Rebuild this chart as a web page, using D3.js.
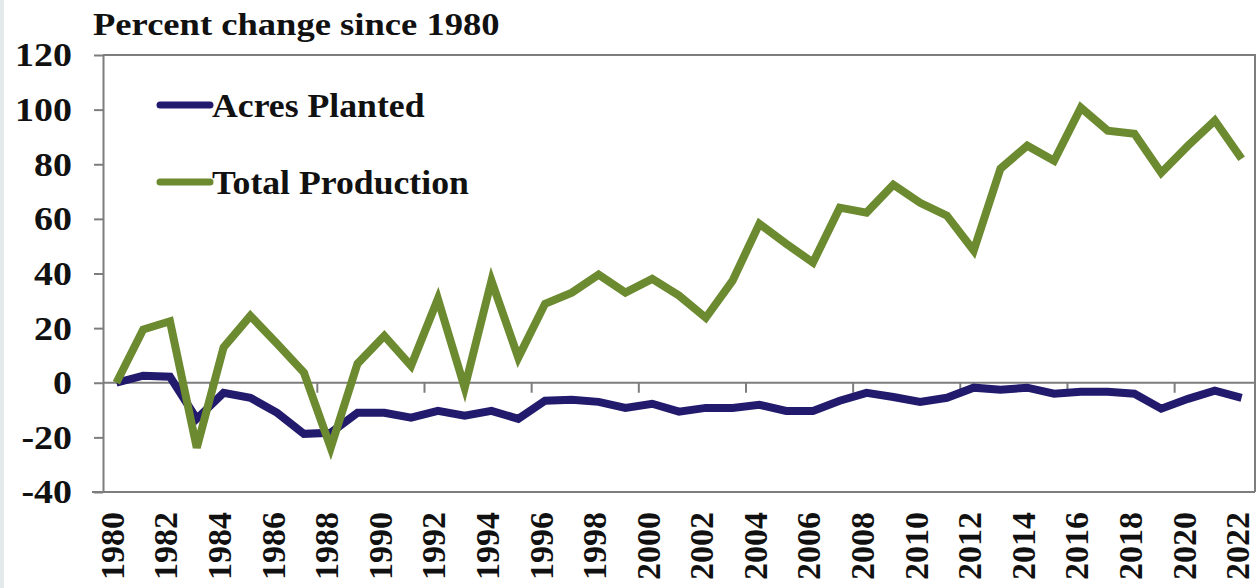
<!DOCTYPE html>
<html>
<head>
<meta charset="utf-8">
<script src="https://cdn.jsdelivr.net/npm/d3@7"></script>
<style>
    body { margin: 0; background: #fff; }
    text { font-family: "Liberation Serif", "Times New Roman", serif; font-weight: bold; fill: #111; }
</style>
</head>
<body>
<svg id="chart"></svg>
<script>
// data
var years = d3.range(1980, 2023);
var acresPlanted = [0, 2.6, 2.2, -13.2, -3.7, -5.5, -11, -18.7, -18.3, -11, -11, -12.8, -10.3, -12.1, -10.3,
    -13.2, -6.6, -6.2, -7, -9.2, -7.7, -10.6, -9.2, -9.2, -8.1, -10.3, -10.3, -6.6, -3.7, -5.2,
    -7, -5.5, -1.8, -2.6, -1.8, -4, -3.3, -3.3, -4, -9.5, -5.9, -2.9, -5.5];
var totalProduction = [0, 19.5, 22.5, -23.8, 12.9, 24.5, 14.3, 3.7, -23.8, 7, 17.2, 6.2, 30.7, -1.8, 37.4,
    9.2, 28.9, 33, 39.6, 33, 38, 31.9, 23.8, 37.4, 58.2, 50.9, 44, 64.1, 62.3, 72.5,
    65.9, 61.2, 48.4, 78.4, 86.8, 81.3, 100.7, 92.3, 91.2, 76.9, 86.8, 96, 82];
var yTicks = [-40, -20, 0, 20, 40, 60, 80, 100, 120];
var seriesNames = ["Acres Planted", "Total Production"];
var seriesColors = ["#221a6c", "#6c8a30"];

var width = 1258,
    height = 588;

var svg = d3.select("#chart")
    .attr("width", width)
    .attr("height", height);

// faint strip on the left edge
svg.append("rect")
    .attr("x", 0).attr("y", 0)
    .attr("width", 4).attr("height", height)
    .attr("fill", "#e4e9ec");

var x = d3.scalePoint()
    .domain(years)
    .range([103, 1255])
    .padding(0.5);

var y = d3.scaleLinear()
    .domain([-40, 120])
    .range([492, 55]);

var axisColor = "#7d7d7d";

// frame: top and right
svg.append("path")
    .attr("d", "M103," + y(120) + "H1255V" + y(-40))
    .attr("fill", "none")
    .attr("stroke", axisColor)
    .attr("stroke-width", 2);

// y axis
var yAxis = svg.append("g")
    .attr("transform", "translate(103,0)")
    .call(d3.axisLeft(y)
        .tickValues(yTicks)
        .tickFormat(function (d) { return String(d); })
        .tickSize(9).tickSizeOuter(0).tickPadding(22));
yAxis.selectAll("path, line").attr("stroke", axisColor).attr("stroke-width", 2);
yAxis.selectAll(".tick text").each(function () {
    var t = d3.select(this);
    var xx = +t.attr("x");
    t.style("font-size", "33px")
        .attr("fill", "#111")
        .attr("dy", "0.33em")
        .attr("transform", "translate(" + xx + ",0) scale(1.15,1) translate(" + (-xx) + ",0)");
});

// bottom axis line
svg.append("line")
    .attr("x1", 92).attr("x2", 1255)
    .attr("y1", y(-40)).attr("y2", y(-40))
    .attr("stroke", axisColor)
    .attr("stroke-width", 2);

// zero line with category ticks every 4 years
var step = x.step();
svg.append("line")
    .attr("x1", 103).attr("x2", 1255)
    .attr("y1", y(0)).attr("y2", y(0))
    .attr("stroke", axisColor)
    .attr("stroke-width", 2);
svg.append("g").selectAll("line")
    .data(years.filter(function (d) { return (d - 1983) % 4 === 0 && d < 2022; }))
    .enter().append("line")
    .attr("x1", function (d) { return x(d) + step / 2; })
    .attr("x2", function (d) { return x(d) + step / 2; })
    .attr("y1", y(0))
    .attr("y2", y(0) + 10)
    .attr("stroke", axisColor)
    .attr("stroke-width", 2);

// x labels, every other year, rotated
svg.append("g").selectAll("text")
    .data(years.filter(function (d) { return d % 2 === 0; }))
    .enter().append("text")
    .attr("transform", function (d) { return "translate(" + x(d) + ",512) rotate(-90)"; })
    .attr("text-anchor", "end")
    .attr("dy", "0.22em")
    .style("font-size", "34px")
    .text(function (d) { return d; });

// title
svg.append("text")
    .attr("transform", "translate(93,35) scale(1.18,1)")
    .style("font-size", "31px")
    .text("Percent change since 1980");

// lines
var line = d3.line()
    .x(function (d, i) { return x(years[i]); })
    .y(function (d) { return y(d); });

[acresPlanted, totalProduction].forEach(function (vals, i) {
    svg.append("path")
        .datum(vals)
        .attr("d", line)
        .attr("fill", "none")
        .attr("stroke", seriesColors[i])
        .attr("stroke-width", 8)
        .attr("stroke-linejoin", "miter");
});

// legend
var legend = svg.append("g").selectAll("g")
    .data(seriesNames)
    .enter().append("g")
    .attr("transform", function (d, i) { return "translate(160," + (105 + i * 77) + ")"; });
legend.append("line")
    .attr("x1", 0).attr("x2", 50)
    .attr("stroke", function (d, i) { return seriesColors[i]; })
    .attr("stroke-width", 7)
    .attr("stroke-linecap", "round");
legend.append("text")
    .attr("transform", "translate(52,0) scale(1.05,1)")
    .attr("dy", "0.35em")
    .style("font-size", "34px")
    .text(function (d) { return d; });
</script>
</body>
</html>
